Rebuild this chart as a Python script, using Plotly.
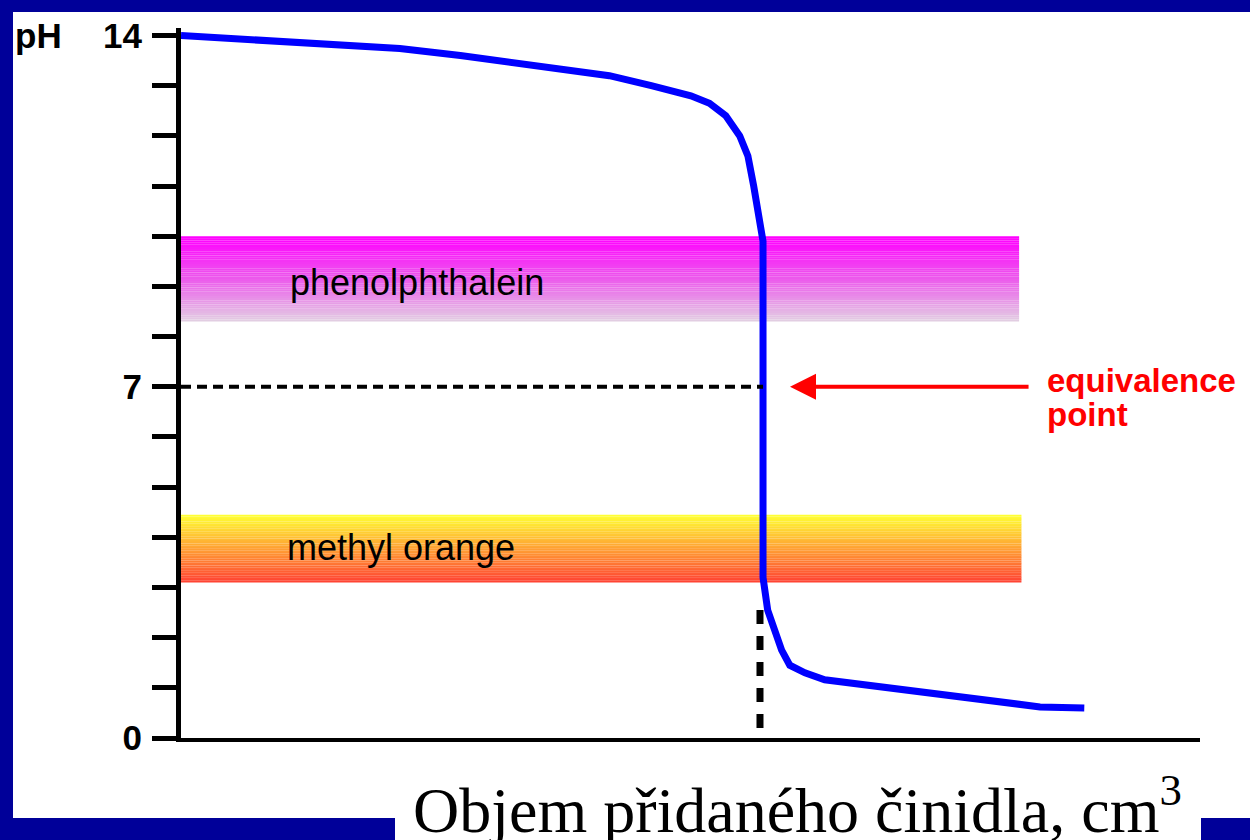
import plotly.graph_objects as go

# ---------------- data ----------------
volume = [0, 3.4, 6.4, 9.4, 12.0, 15.0, 18.4, 20.2, 21.9, 22.7, 23.4, 24.0, 24.35, 24.6,
          24.75, 24.9, 25.0, 25.0, 25.2, 25.5, 25.8, 26.15, 26.8, 27.65, 28.7, 30.0,
          33.0, 35.2, 36.9, 38.8]
ph = [14.0, 13.9, 13.82, 13.74, 13.6, 13.4, 13.2, 13.0, 12.8, 12.65, 12.4, 12.0, 11.6, 11.0,
      10.6, 10.2, 9.9, 3.2, 2.55, 2.15, 1.75, 1.45, 1.3, 1.16, 1.1, 1.0,
      0.82, 0.7, 0.62, 0.6]

indicators = ["phenolphthalein", "methyl orange"]
indicator_low = [8.3, 3.1]
indicator_high = [10.0, 4.45]
indicator_end = [36.0, 36.1]
indicator_top_colors = [(255, 0, 255), (255, 255, 51)]
indicator_mid_colors = [(236, 90, 236), (255, 160, 51)]
indicator_bottom_colors = [(226, 205, 226), (255, 68, 51)]

equivalence_volume = 25.0
equivalence_ph = 7.0

y_tickvals = list(range(0, 15))
y_ticktext = ["0", "", "", "", "", "", "", "7", "", "", "", "", "", "", "14"]

x_title = "Objem přidaného činidla, cm<sup>3</sup>"

# ---------------- layout constants ----------------
W, H = 1250, 840
ML, MR, MT, MB = 181, 50, 28, 102
PW, PH_ = W - ML - MR, H - MT - MB
X_RANGE = [0, 43.77]
Y_RANGE = [0, 14.15]
NAVY = "#000099"


def px_x(p):
    return (p - ML) / PW


def px_y(p):
    return (H - MB - p) / PH_


def mix(c1, c2, t):
    return "rgb(%d,%d,%d)" % tuple(round(a + (b - a) * t) for a, b in zip(c1, c2))


fig = go.Figure()

shapes = []
annotations = []

# indicator colour bands (vertical gradients)
N = 40
for name, lo, hi, xe, ct, cm, cb in zip(indicators, indicator_low, indicator_high, indicator_end,
                                        indicator_top_colors, indicator_mid_colors,
                                        indicator_bottom_colors):
    step = (hi - lo) / N
    for i in range(N):
        t = i / (N - 1)  # 0 at top, 1 at bottom
        if t < 0.5:
            col = mix(ct, cm, t / 0.5)
        else:
            col = mix(cm, cb, (t - 0.5) / 0.5)
        y1 = hi - i * step
        y0 = y1 - step * 1.05
        shapes.append(dict(type="rect", xref="x", yref="y", x0=0, x1=xe, y0=max(y0, lo), y1=y1,
                           fillcolor=col, line=dict(width=0), layer="below"))

# dashed guide lines
shapes.append(dict(type="line", xref="x", yref="y", x0=0, x1=equivalence_volume,
                   y0=equivalence_ph, y1=equivalence_ph,
                   line=dict(color="black", width=4, dash="10px,6px"), layer="above"))
shapes.append(dict(type="line", xref="x", yref="y", x0=24.87, x1=24.87, y0=2.55, y1=0.2,
                   line=dict(color="black", width=7, dash="14px,12px"), layer="above"))

# navy slide frame
frame = [(0, 0, W, 12), (0, 0, 13, H), (0, 818, 395, H), (1201, 818, W, H)]
for x0, y0, x1, y1 in frame:
    shapes.append(dict(type="rect", xref="paper", yref="paper",
                       x0=px_x(x0), x1=px_x(x1), y0=px_y(y1), y1=px_y(y0),
                       fillcolor=NAVY, line=dict(width=0), layer="above"))

fig.add_trace(go.Scatter(x=volume, y=ph, mode="lines",
                         line=dict(color="#0000ff", width=7), hoverinfo="skip",
                         showlegend=False))

# indicator labels
label_pos = [(4.6, 9.08, 36), (4.47, 3.80, 36)]
for name, (lx, ly, fs) in zip(indicators, label_pos):
    annotations.append(dict(x=lx, y=ly, xref="x", yref="y", text=name, showarrow=False,
                            xanchor="left", yanchor="middle",
                            font=dict(family="Arial, Liberation Sans", size=fs, color="black")))

# equivalence point arrow + label
annotations.append(dict(x=26.16, y=equivalence_ph, xref="x", yref="y",
                        ax=36.47, ay=equivalence_ph, axref="x", ayref="y",
                        text="", showarrow=True, arrowhead=2, arrowsize=1.3,
                        arrowwidth=4, arrowcolor="#ff0000"))
annotations.append(dict(x=37.11, y=7.13, xref="x", yref="y", text="<b>equivalence</b>",
                        showarrow=False, xanchor="left", yanchor="middle",
                        font=dict(family="Arial, Liberation Sans", size=33, color="#ff0000")))
annotations.append(dict(x=37.11, y=6.45, xref="x", yref="y", text="<b>point</b>",
                        showarrow=False, xanchor="left", yanchor="middle",
                        font=dict(family="Arial, Liberation Sans", size=33, color="#ff0000")))

# pH label
annotations.append(dict(x=px_x(13), y=14, xref="paper", yref="y", text="<b>pH</b>",
                        showarrow=False, xanchor="left", yanchor="middle",
                        font=dict(family="Arial, Liberation Sans", size=35, color="black")))

# x axis title
annotations.append(dict(x=px_x(797), y=px_y(805), xref="paper", yref="paper", text=x_title,
                        showarrow=False, xanchor="center", yanchor="middle",
                        font=dict(family="Times New Roman, Liberation Serif", size=64,
                                  color="black")))

fig.update_layout(
    width=W, height=H,
    margin=dict(l=ML, r=MR, t=MT, b=MB, pad=0),
    paper_bgcolor="white", plot_bgcolor="white",
    shapes=shapes, annotations=annotations,
    showlegend=False,
    xaxis=dict(range=X_RANGE, showgrid=False, zeroline=False, showticklabels=False,
               ticks="", showline=True, linecolor="black", linewidth=4, fixedrange=True),
    yaxis=dict(range=Y_RANGE, showgrid=False, zeroline=False, tickmode="array",
               tickvals=y_tickvals, ticktext=y_ticktext, ticks="outside", ticklen=24,
               tickwidth=5, tickcolor="black", showline=True, linecolor="black",
               linewidth=5, ticklabelstandoff=3,
               tickfont=dict(family="Arial, Liberation Sans", size=35, color="black",
                             weight="bold"),
               fixedrange=True),
)

fig.write_html("out.html", config={"displayModeBar": False},
               post_script="document.body.style.margin='0px';document.body.style.overflow='hidden';")
